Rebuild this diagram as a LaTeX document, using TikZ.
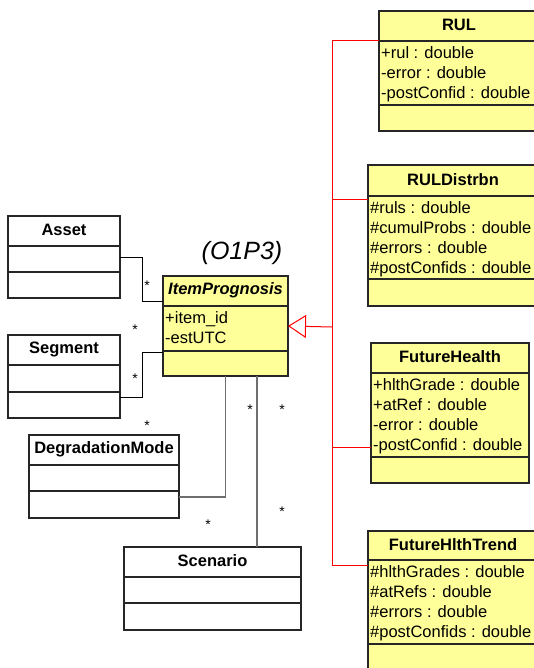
\documentclass[tikz,border=0pt]{standalone}
\usepackage{fontspec}
\setmainfont{Liberation Sans}
\usetikzlibrary{
  arrows.meta,
  positioning,
}
\definecolor{classyellow}{RGB}{255,255,153}
\definecolor{linkgray}{RGB}{110,110,110}
\newcommand{\attrfont}{\fontsize{16.5}{20}\selectfont}

% [fill style] name, north west corner, width, heights of the three parts, title, attributes
\newcommand{\umlclass}[9][whitebox]{%
  \node[#1, minimum width=#4, minimum height=#5+#6+#7] (#2) at #3 {};
  \draw[sepline] ([yshift=-#5]#2.north west) -- ([yshift=-#5]#2.north east);
  \draw[sepline] ([yshift=-#5-#6]#2.north west) -- ([yshift=-#5-#6]#2.north east);
  \node[classname] (#2-name) at ([yshift=-#5/2+1]#2.north) {#8};
  \node[classattr] (#2-attr) at ([xshift=2, yshift=-#5-5]#2.north west) {#9};
}

\begin{document}
\begin{tikzpicture}[
    x=1pt, y=-1pt,
    whitebox/.style={draw=black!85, line width=1.2pt, fill=white, inner sep=0pt, outer sep=0pt, anchor=north west},
    yellowbox/.style={whitebox, fill=classyellow},
    sepline/.style={draw=black!85, line width=1.2pt},
    classname/.style={font=\attrfont\bfseries, inner sep=0pt},
    classattr/.style={font=\attrfont, align=left, inner sep=0pt, anchor=north west},
    mult/.style={font=\fontsize{14}{14}\selectfont, inner sep=0pt},
    assoc/.style={draw=black, line width=0.9pt},
    assocgray/.style={draw=linkgray, line width=1.2pt},
    general/.style={draw=red, line width=1pt},
  ]
  \useasboundingbox (0,0) rectangle (534,668);

  % classes on the left
  \umlclass{asset}{(8,216)}{112}{30}{26}{26}{Asset}{}
  \umlclass{segment}{(8,335)}{112}{30}{27}{26}{Segment}{}
  \umlclass{degrmode}{(29,435)}{150}{30}{26}{27}{DegradationMode}{}
  \umlclass{scenario}{(124,547)}{177}{30}{26}{27}{Scenario}{}
  \umlclass[yellowbox]{item}{(163,276)}{125}{30}{45}{25}{\itshape ItemPrognosis}{+item\_id\\-estUTC}
  \node[font=\fontsize{25}{30}\selectfont\itshape, inner sep=0pt] (view) at (242,253) {(O1P3)};

  % classes on the right
  \umlclass[yellowbox]{rul}{(379,11)}{160}{30}{64}{26}{RUL}{+rul : double\\-error : double\\-postConfid : double}
  \umlclass[yellowbox]{rulds}{(368,165)}{170}{31}{83}{27}{RULDistrbn}{\#ruls : double\\\#cumulProbs : double\\\#errors : double\\\#postConfids : double}
  \umlclass[yellowbox]{health}{(371,343)}{158}{30}{84}{26}{FutureHealth}{+hlthGrade : double\\+atRef : double\\-error : double\\-postConfid : double}
  \umlclass[yellowbox]{trend}{(368,531)}{170}{29}{84}{40}{FutureHlthTrend}{\#hlthGrades : double\\\#atRefs : double\\\#errors : double\\\#postConfids : double}

  % associations
  \draw[assoc] (asset.east) -- ++(22,0) |- ([yshift=-25]item.north west);
  \draw[assoc] ([yshift=-62]segment.north east) -- ++(22,0) |- ([yshift=-76]item.north west);
  \draw[assocgray] ([yshift=-62]degrmode.north east) -| (item.south);
  \draw[assocgray] ([xshift=133]scenario.north west) coordinate (scentop) -- (scentop |- item.south);

  \node[mult] (m1) at (147,286) {*};
  \node[mult] (m2) at (135,330) {*};
  \node[mult] (m3) at (135,379) {*};
  \node[mult] (m4) at (147,426) {*};
  \node[mult] (m5) at (250,410) {*};
  \node[mult] (m6) at (282,410) {*};
  \node[mult] (m7) at (208,525) {*};
  \node[mult] (m8) at (282,512) {*};

  % generalization
  \coordinate (fork) at (332,327);
  \draw[general, -{Triangle[open, length=18pt, width=23pt]}] (fork) -- (item.east);
  \draw[general] (fork) |- ([yshift=-30]rul.north west);
  \draw[general] (fork) |- ([yshift=-35]rulds.north west);
  \draw[general] (fork) |- ([yshift=-104]health.north west);
  \draw[general] (fork) |- ([yshift=-34]trend.north west);
\end{tikzpicture}
\end{document}
